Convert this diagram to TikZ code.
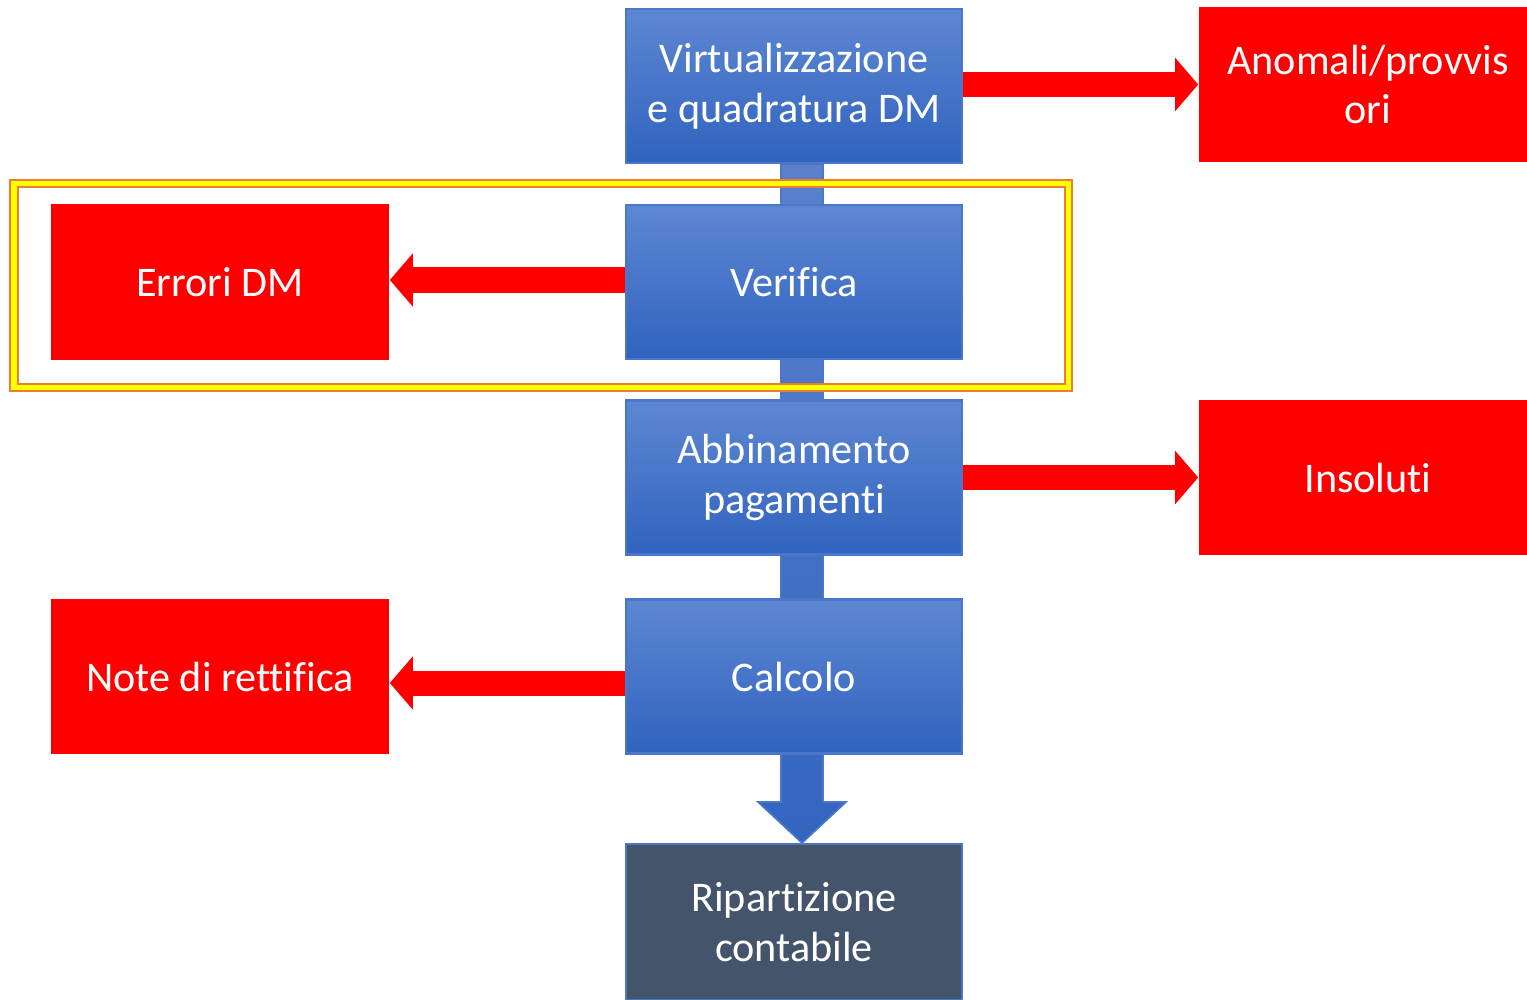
\documentclass[tikz,border=0pt]{standalone}
\usepackage{fontspec}
\setmainfont[Ligatures={NoCommon,NoContextual}]{Carlito}
\usetikzlibrary{arrows.meta,backgrounds,calc}

\definecolor{boxtop}{HTML}{5E87D3}
\definecolor{boxbot}{HTML}{3063BE}
\definecolor{boxedge}{HTML}{4A77CA}
\definecolor{linktop}{HTML}{5A80CC}
\definecolor{linkbot}{HTML}{3365C0}
\definecolor{outred}{HTML}{FF0000}
\definecolor{slate}{HTML}{44546A}
\definecolor{frameorange}{HTML}{ED7D31}
\definecolor{frameyellow}{HTML}{FFFF00}

\tikzset{
  boxtext/.style={rectangle, inner sep=0pt, align=center, text=white,
    font=\fontsize{12}{14.2}\selectfont},
  flowbox/.style={boxtext, minimum width=3.36cm, minimum height=1.54cm,
    draw=boxedge, line width=0.6pt, top color=boxtop, bottom color=boxbot},
  sinkbox/.style={boxtext, minimum width=3.36cm, minimum height=1.56cm,
    draw=boxedge, line width=0.6pt, fill=slate},
  outbox/.style={boxtext, minimum width=3.38cm, minimum height=1.55cm,
    fill=outred},
  redflow/.style={draw=outred, line width=0.25cm,
    -{Triangle[length=0.23cm,width=0.52cm]}},
  mainlink/.style={top color=linktop, bottom color=linkbot,
    draw=boxedge, line width=0.5pt},
}

\begin{document}
\begin{tikzpicture}[x=0.01cm,y=-0.01cm]
  \useasboundingbox (0,0) rectangle (1527,1000);
  \clip (0,0) rectangle (1527,1000);

  % process chain
  \node[flowbox] (v1)   at (794,86)    {Virtualizzazione\\e quadratura DM};
  \node[flowbox] (ver)  at (794,282)   {Verifica};
  \node[flowbox] (abb)  at (794,477.5) {Abbinamento\\pagamenti};
  \node[flowbox] (calc) at (794,676.5) {Calcolo};
  \node[sinkbox] (rip)  at (794,922)   {Ripartizione\\contabile};

  % side outputs
  \node[outbox] (anom) at (1368,84.5)  {Anomali/provvis\\ori};
  \node[outbox] (err)  at (220,282)    {Errori DM};
  \node[outbox] (ins)  at (1368,477.5) {Insoluti};
  \node[outbox] (note) at (220,676.5)  {Note di rettifica};

  % vertical block arrow behind the chain
  \begin{pgfonlayer}{background}
    \path[mainlink]
      ([xshift=-0.13cm]v1.south) -- ([xshift=0.29cm]v1.south)
      -- ([xshift=0.29cm,yshift=0.41cm]rip.north)
      -- ([xshift=0.52cm,yshift=0.41cm]rip.north)
      -- ([xshift=0.08cm]rip.north)
      -- ([xshift=-0.36cm,yshift=0.41cm]rip.north)
      -- ([xshift=-0.13cm,yshift=0.41cm]rip.north) -- cycle;
  \end{pgfonlayer}

  % branch arrows
  \draw[redflow] ([yshift=0.015cm]v1.east) -- ([yshift=0.015cm]v1.east -| anom.west);
  \draw[redflow] ([yshift=0.02cm]ver.west) -- ([yshift=0.02cm]ver.west -| err.east);
  \draw[redflow] (abb.east) -- (abb.east -| ins.west);
  \draw[redflow] ([yshift=-0.065cm]calc.west) -- ([yshift=-0.065cm]calc.west -| note.east);

  % highlight frame around the verification step
  \draw[frameorange, line width=0.09cm] (14,183.5) rectangle (1068,387);
  \draw[frameyellow, line width=0.05cm] (14,183.5) rectangle (1068,387);
\end{tikzpicture}
\end{document}
